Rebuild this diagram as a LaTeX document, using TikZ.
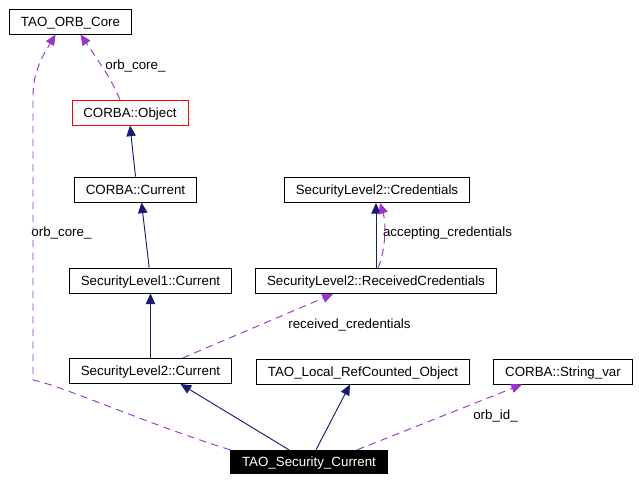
\documentclass[tikz,border=0pt]{standalone}
\usepackage{fontspec}
\setmainfont{Liberation Sans}
\usetikzlibrary{arrows.meta}

\definecolor{navyedge}{RGB}{25,25,112}
\definecolor{orchidedge}{RGB}{154,50,205}

\tikzstyle{classbox}=[draw,line width=0.7pt,inner xsep=8.5pt,inner ysep=0pt,text height=7.2pt,text depth=0pt,minimum height=18.75pt,font=\fontsize{10pt}{12pt}\selectfont]
\tikzstyle{edgelabel}=[inner sep=0pt,font=\fontsize{10pt}{12pt}\selectfont]
\tikzstyle{inheritarc}=[draw=navyedge,line width=0.7pt,-{Triangle[length=8pt,width=7pt]},navyedge]
\tikzstyle{usagearc}=[draw=orchidedge,line width=0.7pt,dash pattern=on 5.5pt off 4pt,-{Triangle[length=8pt,width=7pt]},orchidedge]

\begin{document}
\begin{tikzpicture}[x=0.75pt,y=-0.75pt]

\useasboundingbox (0,0) rectangle (639,482);

\node[classbox] (ORB) at (70.5,21.5) {TAO\_ORB\_Core};
\node[classbox,draw=red] (OBJ) at (130,112.5) {CORBA::Object};
\node[classbox] (CCUR) at (135.5,189.5) {CORBA::Current};
\node[classbox] (SL1) at (150.5,280.5) {SecurityLevel1::Current};
\node[classbox] (SL2) at (150.5,371) {SecurityLevel2::Current};
\node[classbox] (CRED) at (377,190) {SecurityLevel2::Credentials};
\node[classbox] (RCRED) at (376,281) {SecurityLevel2::ReceivedCredentials};
\node[classbox] (LRC) at (363,371.5) {TAO\_Local\_RefCounted\_Object};
\node[classbox] (STR) at (563,371.5) {CORBA::String\_var};
\node[classbox,fill=black,text=white,minimum height=17.5pt] (TSC) at (309,462) {TAO\_Security\_Current};

\node[edgelabel] (L1) at (135.5,66) {orb\_core\_};
\node[edgelabel] (L2) at (61.5,233) {orb\_core\_};
\node[edgelabel] (L3) at (447.5,233) {accepting\_credentials};
\node[edgelabel] (L4) at (349.5,325) {received\_credentials};
\node[edgelabel] (L5) at (495.5,416) {orb\_id\_};

\draw[inheritarc] (CCUR.north) -- (OBJ.south);
\draw[inheritarc] ([xshift=-1pt]SL1.north) -- ([xshift=4.5pt]CCUR.south);
\draw[inheritarc] (SL2.north) -- (SL1.south);
\draw[inheritarc] (RCRED.north) -- ([xshift=-0.75pt]CRED.south);
\draw[inheritarc] ([xshift=-15pt]TSC.north) -- ([xshift=22.5pt]SL2.south);
\draw[inheritarc] ([xshift=5.25pt]TSC.north) -- ([xshift=-9.75pt]LRC.south);

\draw[usagearc] ([xshift=-7.5pt]OBJ.north) .. controls (110,78) .. ([xshift=7.5pt]ORB.south);
\draw[usagearc] (TSC.north west) .. controls (150,425) and (60,385) .. (33,380) -- (33,95) .. controls (33,70) and (45,52) .. ([xshift=-11.25pt]ORB.south);
\draw[usagearc] ([xshift=1.5pt]RCRED.north) .. controls (386,250) and (386,222) .. ([xshift=2.25pt]CRED.south);
\draw[usagearc] ([xshift=24pt]SL2.north) -- ([xshift=-32.25pt]RCRED.south);
\draw[usagearc] ([xshift=36pt]TSC.north) -- ([xshift=-30.75pt]STR.south);

\end{tikzpicture}
\end{document}
